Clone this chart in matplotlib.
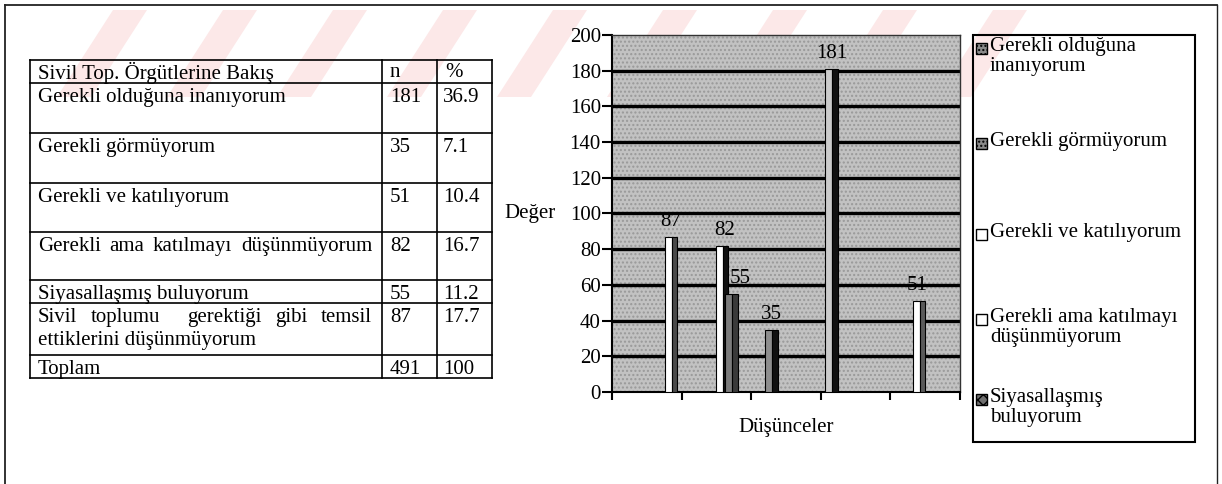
import matplotlib
matplotlib.use("Agg")
from matplotlib import pyplot as plt
from matplotlib.patches import Rectangle, Polygon

plt.rcParams["font.family"] = ["Liberation Serif", "DejaVu Serif"]
plt.rcParams["hatch.linewidth"] = 1.0

# table data
table_header = ["Sivil Top. Örgütlerine Bakış", "n", "%"]
row_labels = [
    "Gerekli olduğuna inanıyorum",
    "Gerekli görmüyorum",
    "Gerekli ve katılıyorum",
    "Gerekli ama katılmayı düşünmüyorum",
    "Siyasallaşmış buluyorum",
    "Sivil toplumu  gerektiği gibi temsil\nettiklerini düşünmüyorum",
    "Toplam",
]
row_n = ["181", "35", "51", "82", "55", "87", "491"]
row_pct = ["36.9", "7.1", "10.4", "16.7", "11.2", "17.7", "100"]

# chart data (one bar per value, as drawn in the original)
bar_values = [87, 82, 55, 35, 181, 51]
legend_labels = [
    "Gerekli olduğuna\ninanıyorum",
    "Gerekli görmüyorum",
    "Gerekli ve katılıyorum",
    "Gerekli ama katılmayı\ndüşünmüyorum",
    "Siyasallaşmış\nbuluyorum",
]
y_ticks = [0, 20, 40, 60, 80, 100, 120, 140, 160, 180, 200]
n_categories = 5

# layout / style
FS = 15
bar_left = [0.76, 1.49, 1.63, 2.20, 3.06, 4.32]
label_dx = [0, 2, 6, 0, 0, -1]
face_w, side_w = 0.10, 0.08
face_colors = ["white", "white", "#7c7c7c", "#8e8e8e", "#cbcbcb", "white"]
side_colors = ["#4a4a4a", "#111111", "#3a3a3a", "#111111", "#111111", "#5a5a5a"]
row_edges = [60, 83, 133, 183, 232, 280, 303, 355, 378]
col_edges = [30, 382, 437, 492]
justify_rows = {3, 5}
legend_y = [48, 143, 234, 319, 399]
legend_face = ["#8a8a8a", "#8a8a8a", "white", "white", "#707070"]
legend_hatch = ["....", "....", None, None, "xxx"]

W, H = 1222, 484
fig = plt.figure(figsize=(W / 100, H / 100), dpi=100)
fig.patch.set_facecolor("white")

# full-page pixel overlay for frame, watermark, table, legend
bg = fig.add_axes([0, 0, 1, 1], zorder=0)
bg.set_xlim(0, W)
bg.set_ylim(H, 0)
bg.axis("off")

# faint diagonal watermark stripes at the top
x0 = 57
while x0 < 1000:
    bg.add_patch(Polygon([(x0, 97), (x0 + 34, 97), (x0 + 90, 10), (x0 + 56, 10)],
                         closed=True, facecolor="#fce8e8", edgecolor="none", zorder=0))
    x0 += 110

# page frame
bg.plot([5, 1217], [5, 5], color="#222222", lw=1.3)
bg.plot([5, 5], [5, H], color="#222222", lw=1.3)
bg.plot([1217, 1217], [5, H], color="#222222", lw=1.0)

# table
for y in row_edges:
    bg.plot([col_edges[0], col_edges[-1]], [y, y], color="black", lw=1.2)
for x in col_edges:
    bg.plot([x, x], [row_edges[0], row_edges[-1]], color="black", lw=1.2)

renderer = fig.canvas.get_renderer()


def justify(words, xa, xb, y):
    texts = [bg.text(0, y, w, fontsize=FS, va="center_baseline") for w in words]
    widths = [t.get_window_extent(renderer).width if w else 0 for t, w in zip(texts, words)]
    gap = (xb - xa - sum(widths)) / (len(words) - 1)
    x = xa
    for t, w in zip(texts, widths):
        t.set_x(x)
        x += w + gap


pad = 8
for j, txt in enumerate(table_header):
    bg.text(col_edges[j] + pad, row_edges[0] + 10, txt, fontsize=FS, va="center_baseline")
for i, lab in enumerate(row_labels):
    top = row_edges[i + 1]
    lines = lab.split("\n")
    for k, line in enumerate(lines):
        y = top + 12 + 23 * k
        if i in justify_rows and k == 0:
            justify(line.split(" "), col_edges[0] + pad, col_edges[1] - 10, y)
        else:
            bg.text(col_edges[0] + pad, y, line, fontsize=FS, va="center_baseline")
    bg.text(col_edges[1] + pad, top + 12, row_n[i], fontsize=FS, va="center_baseline")
    bg.text(col_edges[2] + 6, top + 12, row_pct[i], fontsize=FS, va="center_baseline")

# legend box drawn by hand to match the original spacing
bg.add_patch(Rectangle((973, 35), 222, 407, facecolor="none", edgecolor="black", lw=1.5))
for lab, y, fc, h in zip(legend_labels, legend_y, legend_face, legend_hatch):
    bg.add_patch(Rectangle((976, y - 5), 11, 11, facecolor=fc, edgecolor="black",
                           hatch=h, lw=1.0))
    bg.text(990, y - 11, lab, fontsize=FS, va="top", linespacing=1.1)

# chart
ax = fig.add_axes([612 / W, (H - 392) / H, 348 / W, 357 / H], zorder=2)
ax.set_facecolor("#c2c2c2")
ax.add_patch(Rectangle((0, 0), 1, 1, transform=ax.transAxes, facecolor="none",
                       edgecolor="#999999", hatch="....", lw=0, zorder=0))
ax.set_xlim(0, n_categories)
ax.set_ylim(0, 200)
for v in y_ticks[1:-1]:
    ax.axhline(v, color="black", lw=2.4, zorder=1)

for left, v, fc, sc, dx in zip(bar_left, bar_values, face_colors, side_colors, label_dx):
    ax.bar(left, v, width=face_w, align="edge", color=fc, edgecolor="black", lw=0.8, zorder=3)
    ax.bar(left + face_w, v, width=side_w, align="edge", color=sc, edgecolor="black", lw=0.8, zorder=3)
    ax.annotate(str(v), (left + (face_w + side_w) / 2, v), xytext=(dx, 4),
                textcoords="offset points", ha="center", va="bottom", fontsize=FS, zorder=4)

ax.set_yticks(y_ticks)
ax.set_xticks(range(n_categories + 1))
ax.set_xticklabels([])
ax.tick_params(axis="y", length=7, width=1.5, pad=1, labelsize=FS)
ax.tick_params(axis="x", length=6, width=1.5)
for s in ["left", "bottom"]:
    ax.spines[s].set_linewidth(1.5)
for s in ["top", "right"]:
    ax.spines[s].set_linewidth(1.0)
    ax.spines[s].set_color("#333333")

ax.set_ylabel("Değer", rotation=0, fontsize=FS, ha="right", va="center")
ax.yaxis.set_label_coords(-0.163, 0.5)
ax.set_xlabel("Düşünceler", fontsize=FS, va="center")
ax.xaxis.set_label_coords(0.5, -0.10)

fig.savefig("out.png", dpi=100)
